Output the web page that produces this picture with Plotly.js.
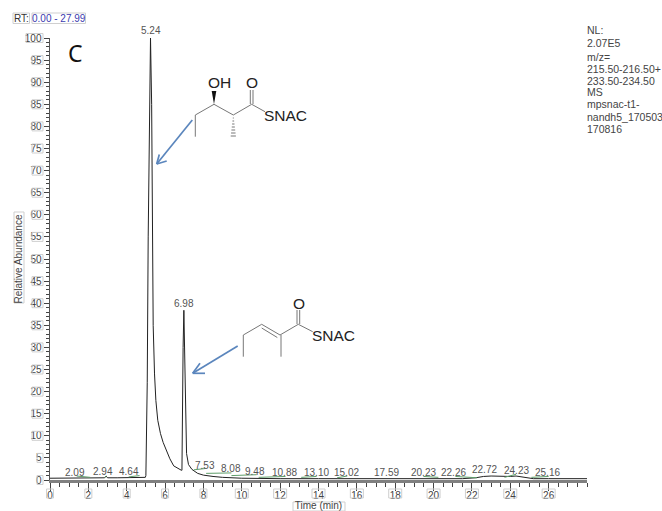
<!DOCTYPE html>
<html><head><meta charset="utf-8">
<script src="https://cdn.plot.ly/plotly-3.0.1.min.js"></script>
<style>html,body{margin:0;padding:0;background:#fff}#c{width:662px;height:511px}</style>
</head><body><div id="c"></div><script>
const timeMin=[0,0.5,1,1.5,2,2.5,2.85,2.92,3,3.5,4,4.5,4.9,4.97,5.0,5.03,5.07,5.12,5.2,5.24,5.3,5.33,5.38,5.45,5.52,5.62,5.76,5.9,6.07,6.25,6.45,6.65,6.85,6.88,6.9,6.94,6.98,7.02,7.05,7.08,7.12,7.22,7.4,7.7,8,8.5,9,10,11,12,14,16,18,20,21.5,22.2,22.6,23,23.6,24,24.3,24.8,25.2,26,27,28];
const abundance=[0.4,0.4,0.4,0.4,0.4,0.4,0.5,0.9,0.5,0.5,0.5,0.5,0.5,0.6,1,8,22,55,90,100,85,55,35,24,18,13.5,10.5,8.5,6.5,4.8,3.2,2.6,2.2,2.2,15,30,38.4,30,20,10,6,3.5,2.4,1.5,1.1,0.8,0.6,0.4,0.3,0.3,0.3,0.3,0.3,0.3,0.3,0.5,0.8,0.9,0.8,0.8,0.9,0.6,0.3,0.3,0.3,0.3];
const greenX=[1.39,2.1,null,2.85,2.95,null,4.1,4.67,null,7.5,8.1,null,8.14,9.46,null,9.46,10.77,null,10.88,12.28,null,13.1,13.9,null,14.97,15.5,null,19.47,20.25,null,21.14,22.27,null,23.7,24.3,null,25.1,26];
const greenY=[0.9,0.6,null,0.6,0.9,null,0.7,1,null,2.3,2.6,null,1.5,1.6,null,1,1.2,null,0.6,0.8,null,0.6,0.8,null,0.5,0.9,null,0.8,0.6,null,0.8,0.5,null,0.6,1.3,null,0.6,0.8];
const peakLabels=["2.09","2.94","4.64","7.53","8.08","9.48","10.88","13.10","15.02","17.59","20.23","22.26","22.72","24.23","25.16"];
const peakLabelX=[1.30,2.76,4.12,8.08,9.44,10.69,12.25,13.87,15.48,17.57,19.45,21.06,22.63,24.3,25.96];
const peakLabelY=[1.7,1.9,1.9,3.3,2.5,1.9,1.6,1.6,1.7,1.7,1.7,1.8,2.3,2.2,1.7];
const mainLabels=["5.24","6.98"];
const mainLabelX=[5.24,6.98];
const mainLabelY=[101.7,40];
const xTicks=[0,2,4,6,8,10,12,14,16,18,20,22,24,26];
const yTicks=[0,5,10,15,20,25,30,35,40,45,50,55,60,65,70,75,80,85,90,95,100];
const infoLines=["NL:","2.07E5","m/z=","215.50-216.50+","233.50-234.50","MS","mpsnac-t1-","nandh5_170503","170816"];
const infoY=[30,43,57,69,81,92,104,117,129];

const L=50,R=75,T=38,B=31,W=662-L-R,H=511-T-B;
const PX=p=>(p-L)/W, PY=p=>(T+H-p)/H;
const BOX='#cfcfcf',GREY='#777',TXT='#444',BLUE='#5b86bd';
const shapes=[],ann=[];
const seg=(pts,color,width)=>{for(let i=0;i<pts.length-1;i++)shapes.push({type:'line',xref:'paper',yref:'paper',x0:PX(pts[i][0]),y0:PY(pts[i][1]),x1:PX(pts[i+1][0]),y1:PY(pts[i+1][1]),line:{color,width}});};
const rect=(x0,y0,x1,y1)=>shapes.push({type:'rect',xref:'paper',yref:'paper',x0:PX(x0),y0:PY(y0),x1:PX(x1),y1:PY(y1),line:{color:BOX,width:1},fillcolor:'rgba(0,0,0,0)'});
const txt=(s,x,y,size,color,anchor,fam)=>ann.push({xref:'paper',yref:'paper',x:PX(x),y:PY(y),text:s,showarrow:false,xanchor:anchor||'center',yanchor:'middle',borderpad:0,font:{size,color,family:fam||'Liberation Sans, Arial, sans-serif'}});

// tick label boxes
xTicks.forEach(v=>{const c=L+v*W/28,w=v>=10?6.5:3.5;rect(c-w,489,c+w,498);});
yTicks.forEach(v=>{const c=T+H-v*H/100,w=v==100?17:v==0?6:v<10?6:11;rect(43-w,c-4.5,43,c+4.5);});
rect(293,502,345,511);rect(14,212,24,303);
rect(13,13,29.5,23.5);rect(32,13,85.5,23.5);

// molecule 1
seg([[195.3,136.7],[195.3,115],[214,104.3],[233.3,115],[251.7,104.3],[265,111.7]],GREY,1);
seg([[250.3,104],[250.3,90]],GREY,1);seg([[253,104],[253,90]],GREY,1);
shapes.push({type:'path',xref:'paper',yref:'paper',path:`M${PX(214)},${PY(104.3)} L${PX(211.7)},${PY(91)} L${PX(216.3)},${PY(91)} Z`,fillcolor:'#111',line:{color:'#111',width:0}});
for(let i=0;i<7;i++){const y=118+i*3,w=0.5+i*0.35;seg([[233.3-w,y],[233.3+w,y]],GREY,1);}
txt('OH',219,83,15.5,'#222');txt('O',251.7,83,15.5,'#222');txt('SNAC',285.7,115,15.5,'#222');
// arrow 1
seg([[192.3,120],[156.7,164]],BLUE,1.7);seg([[159.3,154.5],[156.7,164]],BLUE,1.7);seg([[166.7,161],[156.7,164]],BLUE,1.7);
// molecule 2
seg([[243.3,356.7],[243.3,335],[261.7,324.3],[280,335],[298.3,324.3],[312.7,331.7]],GREY,1);
seg([[261.7,328],[277.3,337.5]],GREY,1);seg([[281,335],[281,356.7]],GREY,1);
seg([[297,324],[297,310]],GREY,1);seg([[299.7,324],[299.7,310]],GREY,1);
txt('O',299,303,15.5,'#222');txt('SNAC',333.3,335.7,15.5,'#222');
// arrow 2
seg([[237.7,346],[192.7,373.3]],BLUE,1.7);seg([[200,363.3],[192.7,373.3]],BLUE,1.7);seg([[205,373.3],[192.7,373.3]],BLUE,1.7);

// text annotations
peakLabels.forEach((s,i)=>ann.push({x:peakLabelX[i],y:peakLabelY[i],xref:'x',yref:'y',yanchor:'middle',text:s,showarrow:false,font:{size:10,color:'#555',family:'Liberation Sans'}}));
mainLabels.forEach((s,i)=>ann.push({x:mainLabelX[i],y:mainLabelY[i]/100,xref:'x',yref:'paper',yanchor:'middle',text:s,showarrow:false,font:{size:10,color:'#555',family:'Liberation Sans'}}));
infoLines.forEach((s,i)=>txt(s,586,infoY[i],10.5,'#444','left'));
txt('RT:',21,18.5,10,'#333');txt('0.00 - 27.99',58.5,18.5,10,'#3b3bb0');
txt('C',75,53,23,'#111','center','Noto Sans');

const data=[
 {x:timeMin,y:abundance,type:'scatter',mode:'lines',line:{color:'#222',width:1},hoverinfo:'skip',showlegend:false},
 {x:greenX,y:greenY,type:'scatter',mode:'lines',line:{color:'#5f9e6a',width:1},hoverinfo:'skip',showlegend:false,connectgaps:false}
];
const layout={width:662,height:511,margin:{l:L,r:R,t:T,b:B,autoexpand:false},paper_bgcolor:'#fff',plot_bgcolor:'#fff',showlegend:false,
 font:{family:'Liberation Sans, Arial, sans-serif',size:10,color:TXT},
 xaxis:{range:[0,28],automargin:true,showgrid:false,zeroline:false,showline:true,linecolor:'#808080',linewidth:2.5,ticks:'outside',ticklen:8,tickcolor:'#444',tickwidth:1,tickmode:'array',tickvals:xTicks,ticktext:xTicks.map(String),tickangle:0,ticklabelstandoff:-4,tickfont:{size:10,color:TXT},
  minor:{dtick:0.5,tick0:0,ticks:'outside',ticklen:4,tickcolor:'#444',tickwidth:1,showgrid:false},
  title:{text:'Time (min)',font:{size:10,color:TXT},standoff:4}},
 yaxis:{range:[0,100],automargin:true,showgrid:false,zeroline:false,showline:true,linecolor:'#555',linewidth:1,ticks:'outside',ticklen:5.5,tickcolor:'#444',tickwidth:1,tickmode:'array',tickvals:yTicks,ticktext:yTicks.map(String),tickfont:{size:10,color:TXT},
  minor:{dtick:1,tick0:0,ticks:'outside',ticklen:3,tickcolor:'#444',tickwidth:1,showgrid:false},
  title:{text:'Relative Abundance',font:{size:10,color:TXT},standoff:0}},
 shapes,annotations:ann};
Plotly.newPlot('c',data,layout,{staticPlot:true,displayModeBar:false});
</script></body></html>
